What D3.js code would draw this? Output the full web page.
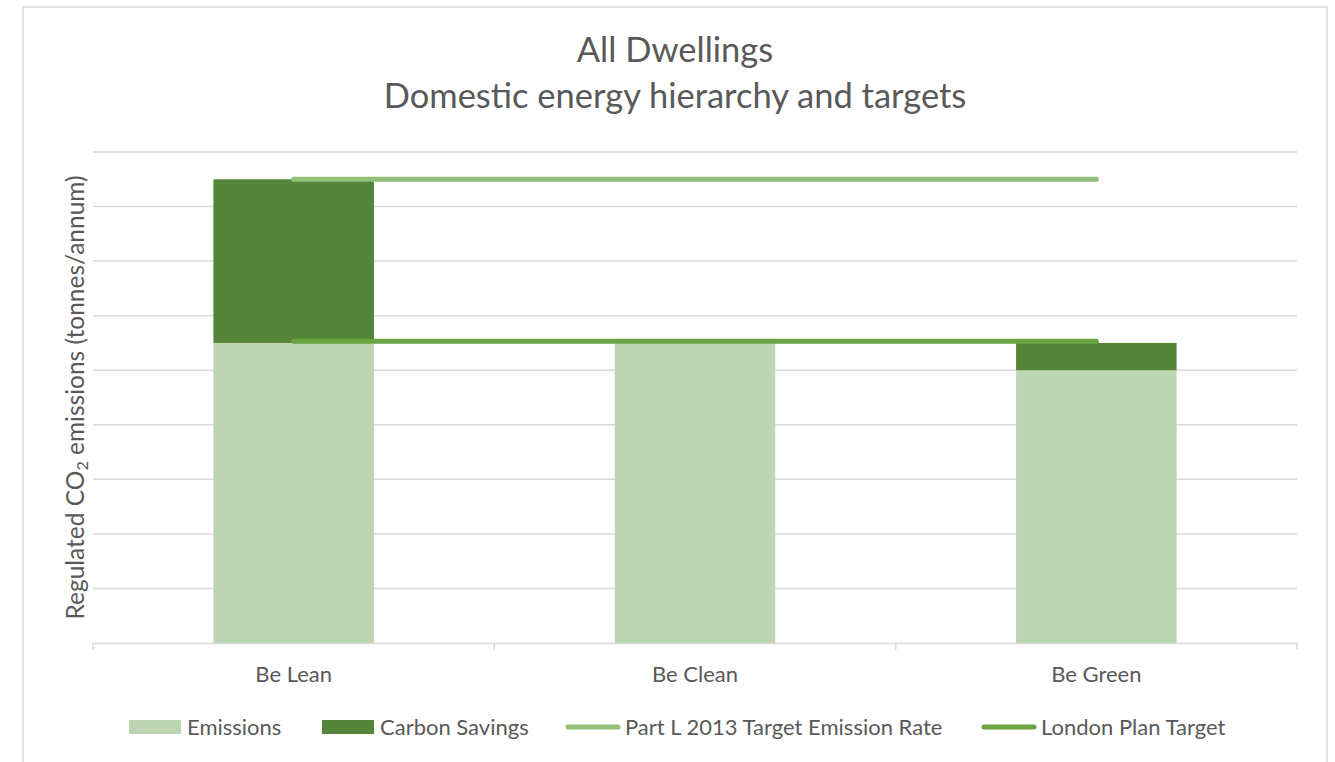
<!DOCTYPE html>
<html>
<head>
<meta charset="utf-8">
<style>
    body {
        margin: 0;
        background: white;
        font-family: Lato, "Open Sans", sans-serif;
    }
    svg text {
        fill: #595959;
    }
</style>
<script src="https://cdn.jsdelivr.net/npm/d3@7"></script>
</head>
<body>
<svg id="chart"></svg>
<script>
    // values (units are arbitrary, no tick labels shown)
    let categories = ["Be Lean", "Be Clean", "Be Green"]
    let emissions = [55, 55, 50]
    let carbonSavings = [30, 0, 5]
    let partLTarget = [85, 85, 85]
    let londonPlanTarget = [55.3, 55.3, 55.3]
    let yTicks = [0, 10, 20, 30, 40, 50, 60, 70, 80, 90]

    let width = 1335, height = 762
    let margin = {left: 93, right: 38, top: 152, bottom: 119}
    let fontFamily = "Lato, Open Sans, sans-serif"

    let svg = d3.select("#chart")
        .attr("width", width)
        .attr("height", height)
        .attr("font-family", fontFamily)

    // outer frame
    svg.append("rect")
        .attr("x", 23).attr("y", 7)
        .attr("width", 1304).attr("height", 770)
        .attr("fill", "white")
        .attr("stroke", "#d9d9d9")
        .attr("stroke-width", 1.5)

    let x = d3.scaleBand()
        .domain(categories)
        .range([margin.left, width - margin.right])
        .paddingInner(0.6)
        .paddingOuter(0.3)

    // band for the category ticks (no padding)
    let xCat = d3.scaleBand()
        .domain(categories)
        .range([margin.left, width - margin.right])

    let y = d3.scaleLinear()
        .domain([0, 90])
        .range([height - margin.bottom, margin.top])

    // gridlines
    svg.append("g")
        .selectAll("line")
        .data(yTicks.slice(1))
        .enter().append("line")
        .attr("x1", margin.left)
        .attr("x2", width - margin.right)
        .attr("y1", d => y(d))
        .attr("y2", d => y(d))
        .attr("stroke", "#d9d9d9")
        .attr("stroke-width", 1.5)

    // stacked bars
    let stackData = categories.map((c, i) => ({cat: c, emissions: emissions[i], savings: carbonSavings[i]}))
    let series = d3.stack().keys(["emissions", "savings"])(stackData)
    let colors = {emissions: "#bed5b3", savings: "#548538"}

    svg.append("g")
        .selectAll("g")
        .data(series)
        .enter().append("g")
        .attr("fill", d => colors[d.key])
        .selectAll("rect")
        .data(d => d)
        .enter().append("rect")
        .attr("x", d => x(d.data.cat))
        .attr("width", x.bandwidth())
        .attr("y", d => y(d[1]))
        .attr("height", d => y(d[0]) - y(d[1]))

    // x axis
    let xAxis = svg.append("g")
        .attr("transform", `translate(0, ${y(0)})`)
        .call(d3.axisBottom(x).tickSize(0).tickPadding(23))
    xAxis.select(".domain").attr("stroke", "#d9d9d9").attr("stroke-width", 1.5)
    xAxis.selectAll("text")
        .attr("font-size", 22)
        .attr("font-family", fontFamily)
        .attr("fill", "#595959")

    // category separator ticks
    let sepPositions = categories.map(c => xCat(c)).concat([width - margin.right])
    svg.append("g")
        .selectAll("line")
        .data(sepPositions)
        .enter().append("line")
        .attr("x1", d => d).attr("x2", d => d)
        .attr("y1", y(0)).attr("y2", y(0) + 7)
        .attr("stroke", "#d9d9d9")
        .attr("stroke-width", 1.5)

    // target lines
    let line = d3.line()
        .x((d, i) => x(categories[i]) + x.bandwidth() / 2)
        .y(d => y(d))

    svg.append("path")
        .attr("d", line(partLTarget))
        .attr("fill", "none")
        .attr("stroke", "#93bf7b")
        .attr("stroke-width", 5)
        .attr("stroke-linecap", "round")

    svg.append("path")
        .attr("d", line(londonPlanTarget))
        .attr("fill", "none")
        .attr("stroke", "#69a342")
        .attr("stroke-width", 5)
        .attr("stroke-linecap", "round")

    // titles
    svg.append("text")
        .attr("x", 675).attr("y", 62)
        .attr("text-anchor", "middle")
        .attr("font-size", 34.5)
        .text("All Dwellings")
    svg.append("text")
        .attr("x", 675).attr("y", 108)
        .attr("text-anchor", "middle")
        .attr("font-size", 34.5)
        .text("Domestic energy hierarchy and targets")

    // y axis label
    let yLabel = svg.append("text")
        .attr("transform", `translate(84, ${(y(0) + y(90)) / 2}) rotate(-90)`)
        .attr("text-anchor", "middle")
        .attr("font-size", 24.5)
    yLabel.append("tspan").text("Regulated CO")
    yLabel.append("tspan").attr("font-size", 16).attr("dy", 4).text("2")
    yLabel.append("tspan").attr("dy", -4).text(" emissions (tonnes/annum)")

    // legend
    let legendY = 727
    let legendItems = [
        {name: "Emissions", type: "rect", color: "#bed5b3", x: 129},
        {name: "Carbon Savings", type: "rect", color: "#548538", x: 322},
        {name: "Part L 2013 Target Emission Rate", type: "line", color: "#93bf7b", x: 568},
        {name: "London Plan Target", type: "line", color: "#69a342", x: 984}
    ]
    let legend = svg.append("g")
        .selectAll("g")
        .data(legendItems)
        .enter().append("g")

    legend.filter(d => d.type == "rect")
        .append("rect")
        .attr("x", d => d.x)
        .attr("y", legendY - 7)
        .attr("width", 52)
        .attr("height", 14)
        .attr("fill", d => d.color)

    legend.filter(d => d.type == "line")
        .append("line")
        .attr("x1", d => d.x)
        .attr("x2", d => d.x + 50)
        .attr("y1", legendY)
        .attr("y2", legendY)
        .attr("stroke", d => d.color)
        .attr("stroke-width", 5)
        .attr("stroke-linecap", "round")

    legend.append("text")
        .attr("x", d => d.type == "rect" ? d.x + 58 : d.x + 57)
        .attr("y", legendY + 8)
        .attr("font-size", 22)
        .text(d => d.name)
</script>
</body>
</html>
